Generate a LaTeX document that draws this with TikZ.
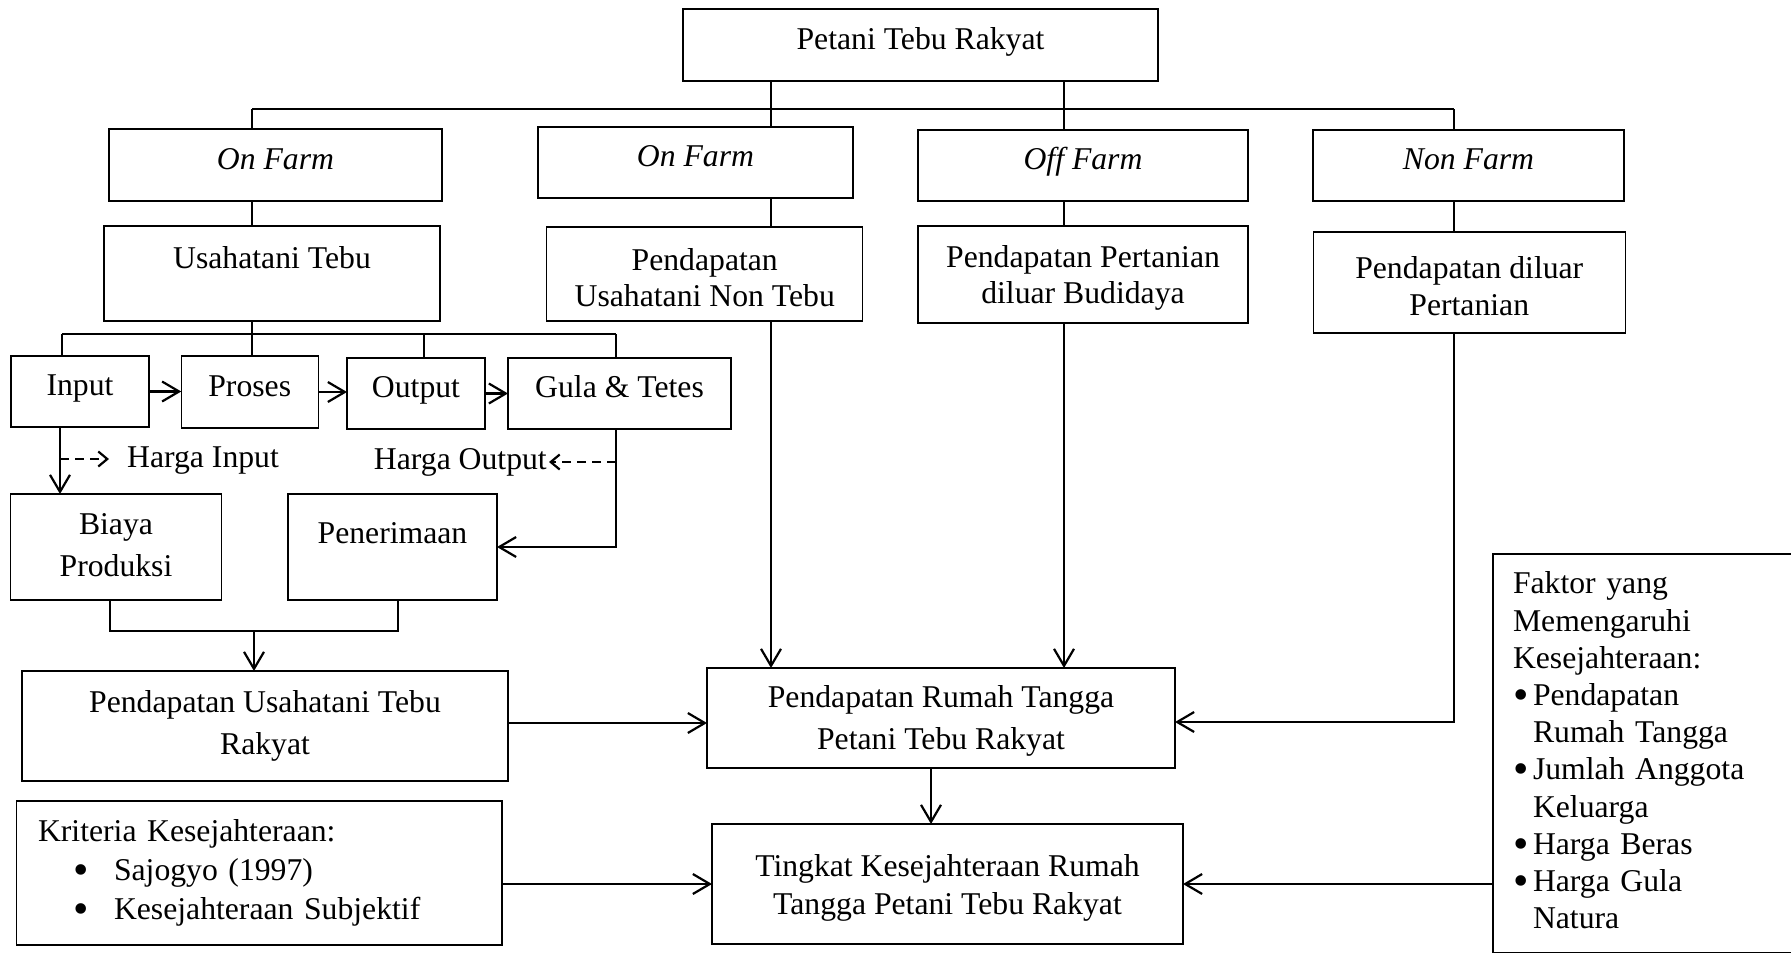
\documentclass[tikz,border=0pt]{standalone}
\usepackage{fontspec}
\setmainfont{Liberation Serif}
\usetikzlibrary{arrows.meta}
\newcommand{\bul}{\smash{\raisebox{-4pt}{\fontsize{44}{44}\selectfont\textbullet}}}

\begin{document}
\begin{tikzpicture}[x=1pt, y=-1pt, font=\fontsize{31.7}{36.5}\selectfont]
\tikzstyle{box}=[rectangle, draw=black, line width=1.3pt, inner sep=0pt, outer sep=0pt, align=center]
\tikzstyle{one}=[text height=22pt, text depth=14pt]
\tikzstyle{wide}=[font=\fontsize{31.7}{42}\selectfont]
\tikzstyle{link}=[line width=2pt]
\tikzstyle{connect}=[-{Straight Barb[length=17pt, width=20pt]}, line width=2.2pt]
\tikzstyle{dconnect}=[-{Straight Barb[length=9pt, width=15pt]}, line width=2.2pt, dash pattern=on 9pt off 6pt]

\useasboundingbox (0,0) rectangle (1791,953);

% 2. Nodes
%%%%%%%%%%
\node[box, one, minimum width=475pt, minimum height=72pt] (petani) at (920.5,45) {Petani Tebu Rakyat};
\node[box, one, minimum width=333pt, minimum height=72pt] (onfarmA) at (275.5,165) {\textit{On Farm}};
\node[box, one, minimum width=315pt, minimum height=71pt] (onfarmB) at (695.5,162.5) {\textit{On Farm}};
\node[box, one, minimum width=330pt, minimum height=71pt] (offfarm) at (1083,165.5) {\textit{Off Farm}};
\node[box, one, minimum width=311pt, minimum height=71pt] (nonfarm) at (1468.5,165.5) {\textit{Non Farm}};

\node[box, one, text depth=33pt, minimum width=336pt, minimum height=95pt] (usaha) at (272,273.5) {Usahatani Tebu};
\node[box, minimum width=316pt, minimum height=94pt] (nontebu) at (704.75,274) {\rule{0pt}{29pt}Pendapatan\\Usahatani Non Tebu};
\node[box, minimum width=330pt, minimum height=97pt] (budidaya) at (1083,274.5) {\rule{0pt}{29pt}Pendapatan Pertanian\\diluar Budidaya};
\node[box, minimum width=312pt, minimum height=101pt] (luar) at (1469.25,282.5) {\rule{0pt}{29pt}Pendapatan diluar\\Pertanian};

\node[box, one, minimum width=138pt, minimum height=71pt] (input) at (80,391.5) {Input};
\node[box, one, minimum width=137pt, minimum height=72pt] (proses) at (249.75,392) {Proses};
\node[box, one, minimum width=138pt, minimum height=71pt] (output) at (416,393.5) {Output};
\node[box, one, minimum width=223pt, minimum height=71pt] (gula) at (619.5,393.5) {Gula \& Tetes};
\node[anchor=west, inner xsep=18pt, inner ysep=0pt] (hinput) at (109,461) {Harga Input};
\node[anchor=east, inner xsep=2pt, inner ysep=0pt] (houtput) at (549,462) {Harga Output};

\node[box, wide, minimum width=211pt, minimum height=106pt] (biaya) at (116,547) {Biaya\\Produksi\rule[-5pt]{0pt}{5pt}};
\node[box, one, text depth=30pt, minimum width=209pt, minimum height=106pt] (pener) at (392.5,547) {Penerimaan};

\node[box, wide, minimum width=486pt, minimum height=110pt] (putr) at (265,726) {Pendapatan Usahatani Tebu\\Rakyat};
\node[box, wide, minimum width=468pt, minimum height=100pt] (prt) at (941,718) {\rule{0pt}{27pt}Pendapatan Rumah Tangga\\Petani Tebu Rakyat};
\node[box, font=\fontsize{31.7}{38}\selectfont, minimum width=471pt, minimum height=120pt] (ting) at (947.5,884) {\rule{0pt}{30pt}Tingkat Kesejahteraan Rumah\\Tangga Petani Tebu Rakyat};

\node[box, align=left, font=\fontsize{31.7}{39}\selectfont, text width=442.5pt, inner xsep=21.5pt, minimum width=485.5pt, minimum height=144pt] (krit) at (259.25,873) {
          Kriteria Kesejahteraan:\\
          \hspace*{35.8pt}\bul\hspace{24.8pt}Sajogyo (1997)\\
          \hspace*{35.8pt}\bul\hspace{24.8pt}Kesejahteraan Subjektif};
\node[box, align=left, font=\fontsize{31.7}{37.2}\selectfont, text width=277pt, inner xsep=20pt, minimum width=317pt, minimum height=398.5pt] (faktor) at (1651.5,753.25) {
          Faktor yang\\
          Memengaruhi\\
          Kesejahteraan:\\
          \bul\hspace{4.6pt}Pendapatan\\
          \hspace*{20pt}Rumah Tangga\\
          \bul\hspace{4.6pt}Jumlah Anggota\\
          \hspace*{20pt}Keluarga\\
          \bul\hspace{4.6pt}Harga Beras\\
          \bul\hspace{4.6pt}Harga Gula\\
          \hspace*{20pt}Natura\rule[-6pt]{0pt}{6pt}};

% 3. Arrows
%%%%%%%%%%%
\coordinate (colA) at (252,109);
\coordinate (colB) at (771,109);
\coordinate (colC) at (1064,109);
\coordinate (colD) at (1454,109);
\path (colA) edge [link] (colD)
      (colA) edge [link] (colA |- onfarmA.north)
      (petani.south -| colB) edge [link] (colB |- onfarmB.north)
      (petani.south -| colC) edge [link] (colC |- offfarm.north)
      (colD) edge [link] (colD |- nonfarm.north)
      (colA |- onfarmA.south) edge [link] (colA |- usaha.north)
      (colB |- onfarmB.south) edge [link] (colB |- nontebu.north)
      (colC |- offfarm.south) edge [link] (colC |- budidaya.north)
      (colD |- nonfarm.south) edge [link] (colD |- luar.north);

\coordinate (busL) at (62,334);
\coordinate (busO) at (424,334);
\coordinate (busR) at (616,334);
\path (colA |- usaha.south) edge [link] (colA |- proses.north)
      (busL) edge [link] (busR)
      (busL) edge [link] (busL |- input.north)
      (busO) edge [link] (busO |- output.north)
      (busR) edge [link] (busR |- gula.north);
\path (input.east)  edge [connect] (input.east -| proses.west)
      (proses.east) edge [connect] (proses.east -| output.west)
      (output.east) edge [connect] (output.east -| gula.west);

\coordinate (inx) at (60,459);
\coordinate (outx) at (616,462);
\path (inx |- input.south) edge [connect] (inx |- biaya.north)
      (inx)  edge [dconnect] (inx -| hinput.west)
      (outx) edge [dconnect] (outx -| houtput.east);
\draw[connect] (busR |- gula.south) |- (pener.east);

\coordinate (jl) at (110,631);
\coordinate (jr) at (398,631);
\coordinate (jm) at (254,631);
\draw[link] (jl |- biaya.south) -- (jl) -- (jr) -- (jr |- pener.south);
\path (jm) edge [connect] (jm |- putr.north);

\coordinate (pin) at ([yshift=3pt]putr.east);
\coordinate (pr) at ([yshift=-4pt]prt.east);
\coordinate (pd) at ([xshift=-10pt]prt.south);
\path (pin) edge [connect] (pin -| prt.west)
      (colB |- nontebu.south) edge [connect] (colB |- prt.north)
      (colC |- budidaya.south) edge [connect] (colC |- prt.north)
      (pd) edge [connect] (pd |- ting.north)
      (krit.east |- ting.west) edge [connect] (ting.west)
      (faktor.west |- ting.east) edge [connect] (ting.east);
\draw[connect] (colD |- luar.south) |- (pr);

\end{tikzpicture}
\end{document}
